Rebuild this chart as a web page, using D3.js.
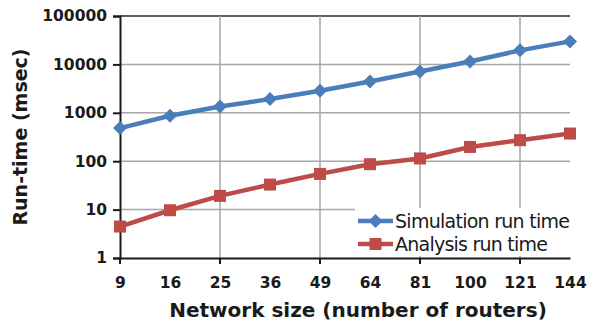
<!DOCTYPE html>
<html>
<head>
<meta charset="utf-8">
<script src="https://cdn.jsdelivr.net/npm/d3@7"></script>
<style>
  body { margin: 0; background: #fff; }
  text { font-family: "DejaVu Sans", Verdana, sans-serif; fill: #1a1a1a; }
</style>
</head>
<body>
<div id="chart"></div>
<script>
// ── Data ──
const categories = ['9', '16', '25', '36', '49', '64', '81', '100', '121', '144'];
const simulationRunTime = [483, 866, 1350, 1920, 2850, 4440, 7130, 11500, 19500, 29900];
const analysisRunTime = [4.46, 9.7, 19.2, 32.9, 54.6, 86.7, 114, 197, 272, 373];
const yTickValues = [1, 10, 100, 1000, 10000, 100000];
const seriesNames = ['Simulation run time', 'Analysis run time'];

const W = 592, H = 324;
const m = { left: 120, right: 22, top: 16, bottom: 66 };

const svg = d3.select('#chart').append('svg').attr('width', W).attr('height', H);

const x = d3.scalePoint().domain(categories).range([m.left, W - m.right]);
const y = d3.scaleLog().domain([1, 100000]).range([H - m.bottom, m.top]);

// ── Gridlines ──
const grid = svg.append('g');
grid.selectAll('line.h').data(yTickValues.slice(1)).join('line')
  .attr('x1', m.left).attr('x2', W - m.right)
  .attr('y1', d => y(d)).attr('y2', d => y(d))
  .attr('stroke', d => d === 100000 ? '#2a2a2a' : '#a6a6a6').attr('stroke-width', 1.5);
// vertical gridlines every other category (Excel interval 2)
grid.selectAll('line.v').data(categories.filter((c, i) => i % 2 === 0 && i > 0)).join('line')
  .attr('x1', d => x(d)).attr('x2', d => x(d))
  .attr('y1', m.top).attr('y2', H - m.bottom)
  .attr('stroke', '#a6a6a6').attr('stroke-width', 1.5);

// ── Axes ──
const yAxis = svg.append('g').attr('transform', `translate(${m.left},0)`)
  .call(d3.axisLeft(y).tickValues(yTickValues).tickFormat(d3.format('d')).tickSize(7).tickPadding(6));
const xAxis = svg.append('g').attr('transform', `translate(0,${H - m.bottom})`)
  .call(d3.axisBottom(x).tickSize(0).tickPadding(19));
[yAxis, xAxis].forEach(a => {
  a.select('.domain').attr('stroke', '#1a1a1a').attr('stroke-width', 2);
  a.selectAll('.tick line').attr('stroke', '#1a1a1a').attr('stroke-width', 2);
  a.selectAll('text').attr('font-size', 15.5).attr('font-weight', 'bold')
    .attr('font-family', '"DejaVu Sans", Verdana, sans-serif').attr('fill', '#1a1a1a');
});
// x tick marks at interval 2
xAxis.selectAll('line.tm').data(categories.filter((c, i) => i % 2 === 0)).join('line')
  .attr('x1', d => x(d)).attr('x2', d => x(d)).attr('y1', 0).attr('y2', 6)
  .attr('stroke', '#1a1a1a').attr('stroke-width', 2);

// ── Series ──
const series = [
  { name: seriesNames[0], values: simulationRunTime, color: '#4a7ebb', shape: 'diamond' },
  { name: seriesNames[1], values: analysisRunTime, color: '#be4b48', shape: 'square' }
];
const line = d3.line().x((d, i) => x(categories[i])).y(d => y(d));
function marker(sel, shape, color) {
  if (shape === 'diamond') {
    sel.append('path').attr('d', 'M0,-7L7,0L0,7L-7,0Z').attr('fill', color);
  } else {
    sel.append('rect').attr('x', -6).attr('y', -6).attr('width', 12).attr('height', 12).attr('fill', color);
  }
}
series.forEach(s => {
  svg.append('path').datum(s.values).attr('d', line)
    .attr('fill', 'none').attr('stroke', s.color).attr('stroke-width', 4.5);
  s.values.forEach((v, i) => {
    const g = svg.append('g').attr('transform', `translate(${x(categories[i])},${y(v)})`);
    marker(g, s.shape, s.color);
  });
});

// ── Legend ──
const legend = svg.append('g');
legend.append('rect').attr('x', 355).attr('y', 208).attr('width', 215).attr('height', 48).attr('fill', '#fff');
series.forEach((s, i) => {
  const ly = 221 + i * 23;
  legend.append('line').attr('x1', 358).attr('x2', 393).attr('y1', ly).attr('y2', ly)
    .attr('stroke', s.color).attr('stroke-width', 4.5);
  marker(legend.append('g').attr('transform', `translate(375.5,${ly})`), s.shape, s.color);
  legend.append('text').attr('x', 395).attr('y', ly + 6.5).attr('font-size', 19)
    .attr('textLength', i === 0 ? 175 : 153).text(s.name);
});

// ── Axis titles ──
svg.append('text').attr('x', 358).attr('y', 317).attr('text-anchor', 'middle')
  .attr('font-size', 20).attr('font-weight', 'bold').text('Network size (number of routers)');
svg.append('text').attr('transform', 'translate(27,137) rotate(-90)').attr('text-anchor', 'middle')
  .attr('font-size', 19).attr('font-weight', 'bold').text('Run-time (msec)');
</script>
</body>
</html>
